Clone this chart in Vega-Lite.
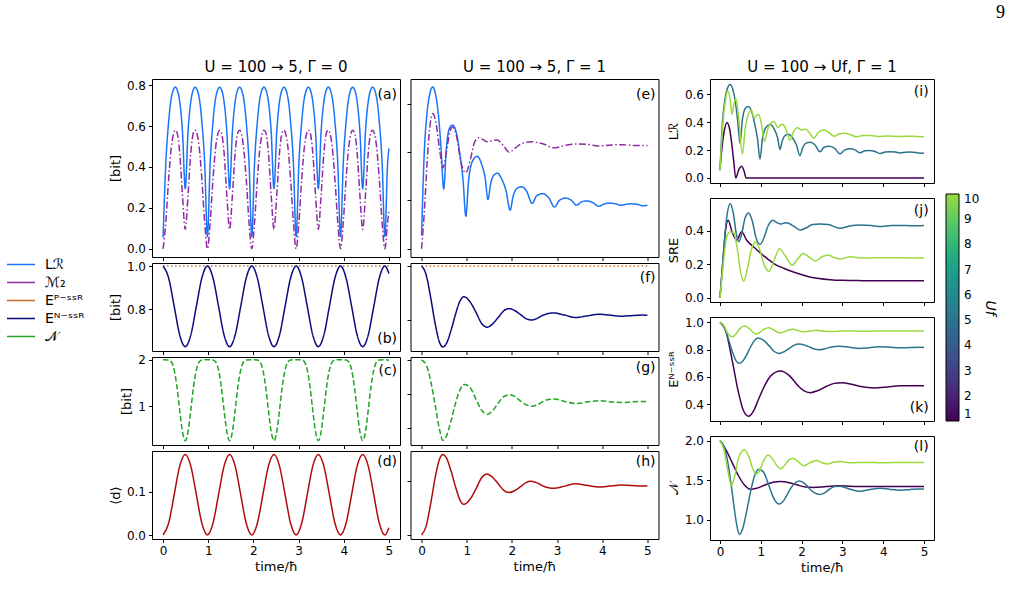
{
"$schema": "https://vega.github.io/schema/vega-lite/v6.json",
"padding": {"left": 6, "top": 3, "right": 5, "bottom": 5},
"title": {"text": "9", "anchor": "end", "font": "Liberation Serif", "fontSize": 18, "fontWeight": "normal", "offset": 38, "dx": 8, "color": "#000"},
"config": {
  "font": "DejaVu Sans",
  "view": {"stroke": "#000", "strokeWidth": 1},
  "axis": {"grid": false, "domain": false, "ticks": true, "tickColor": "#000", "tickSize": 3.5, "tickWidth": 1, "labelFont": "DejaVu Sans", "labelFontSize": 12, "labelColor": "#000", "labelPadding": 3, "labelFlush": false, "labelOverlap": false, "titleFont": "DejaVu Sans", "titleFontSize": 13, "titleFontWeight": "normal", "titleColor": "#000", "titlePadding": 4},
  "title": {"font": "DejaVu Sans", "fontSize": 15, "fontWeight": "normal", "color": "#000"},
  "line": {"strokeWidth": 1.5},
  "text": {"font": "DejaVu Sans", "fontSize": 14, "color": "#000"},
  "legend": {"labelFont": "DejaVu Sans", "labelColor": "#000", "titleFont": "DejaVu Sans", "titleColor": "#000"}
},
"datasets": {
"d0": [
{"s":"LR","t":0,"v":0.055},{"s":"LR","t":0.061,"v":0.42},{"s":"LR","t":0.123,"v":0.62},{"s":"LR","t":0.184,"v":0.74},{"s":"LR","t":0.271,"v":0.79},{"s":"LR","t":0.307,"v":0.78},{"s":"LR","t":0.368,"v":0.72},{"s":"LR","t":0.43,"v":0.57},{"s":"LR","t":0.491,"v":0.294},{"s":"LR","t":0.552,"v":0.57},{"s":"LR","t":0.614,"v":0.72},{"s":"LR","t":0.675,"v":0.78},{"s":"LR","t":0.711,"v":0.79},{"s":"LR","t":0.798,"v":0.74},{"s":"LR","t":0.859,"v":0.62},{"s":"LR","t":0.921,"v":0.42},
{"s":"LR","t":0.982,"v":0.06},{"s":"LR","t":1.043,"v":0.42},{"s":"LR","t":1.105,"v":0.62},{"s":"LR","t":1.166,"v":0.74},{"s":"LR","t":1.253,"v":0.79},{"s":"LR","t":1.289,"v":0.78},{"s":"LR","t":1.35,"v":0.72},{"s":"LR","t":1.412,"v":0.57},{"s":"LR","t":1.473,"v":0.294},{"s":"LR","t":1.534,"v":0.57},{"s":"LR","t":1.596,"v":0.72},{"s":"LR","t":1.657,"v":0.78},{"s":"LR","t":1.693,"v":0.79},{"s":"LR","t":1.78,"v":0.74},{"s":"LR","t":1.841,"v":0.62},{"s":"LR","t":1.903,"v":0.42},
{"s":"LR","t":1.964,"v":0.06},{"s":"LR","t":2.025,"v":0.42},{"s":"LR","t":2.087,"v":0.62},{"s":"LR","t":2.148,"v":0.74},{"s":"LR","t":2.235,"v":0.79},{"s":"LR","t":2.271,"v":0.78},{"s":"LR","t":2.332,"v":0.72},{"s":"LR","t":2.394,"v":0.57},{"s":"LR","t":2.455,"v":0.294},{"s":"LR","t":2.516,"v":0.57},{"s":"LR","t":2.578,"v":0.72},{"s":"LR","t":2.639,"v":0.78},{"s":"LR","t":2.675,"v":0.79},{"s":"LR","t":2.762,"v":0.74},{"s":"LR","t":2.823,"v":0.62},{"s":"LR","t":2.885,"v":0.42},
{"s":"LR","t":2.946,"v":0.06},{"s":"LR","t":3.007,"v":0.42},{"s":"LR","t":3.069,"v":0.62},{"s":"LR","t":3.13,"v":0.74},{"s":"LR","t":3.217,"v":0.79},{"s":"LR","t":3.253,"v":0.78},{"s":"LR","t":3.314,"v":0.72},{"s":"LR","t":3.376,"v":0.57},{"s":"LR","t":3.437,"v":0.294},{"s":"LR","t":3.498,"v":0.57},{"s":"LR","t":3.56,"v":0.72},{"s":"LR","t":3.621,"v":0.78},{"s":"LR","t":3.657,"v":0.79},{"s":"LR","t":3.744,"v":0.74},{"s":"LR","t":3.805,"v":0.62},{"s":"LR","t":3.867,"v":0.42},
{"s":"LR","t":3.928,"v":0.06},{"s":"LR","t":3.989,"v":0.42},{"s":"LR","t":4.051,"v":0.62},{"s":"LR","t":4.112,"v":0.74},{"s":"LR","t":4.199,"v":0.79},{"s":"LR","t":4.235,"v":0.78},{"s":"LR","t":4.296,"v":0.72},{"s":"LR","t":4.358,"v":0.57},{"s":"LR","t":4.419,"v":0.294},{"s":"LR","t":4.48,"v":0.57},{"s":"LR","t":4.542,"v":0.72},{"s":"LR","t":4.603,"v":0.78},{"s":"LR","t":4.639,"v":0.79},{"s":"LR","t":4.726,"v":0.74},{"s":"LR","t":4.787,"v":0.62},{"s":"LR","t":4.849,"v":0.42},
{"s":"LR","t":4.91,"v":0.06},{"s":"LR","t":4.971,"v":0.42},{"s":"LR","t":5,"v":0.49},
{"s":"M2","t":0,"v":0},{"s":"M2","t":0.061,"v":0.13},{"s":"M2","t":0.123,"v":0.34},{"s":"M2","t":0.184,"v":0.5},{"s":"M2","t":0.271,"v":0.58},{"s":"M2","t":0.307,"v":0.57},{"s":"M2","t":0.368,"v":0.47},{"s":"M2","t":0.43,"v":0.26},{"s":"M2","t":0.491,"v":0.095},{"s":"M2","t":0.552,"v":0.26},{"s":"M2","t":0.614,"v":0.47},{"s":"M2","t":0.675,"v":0.57},{"s":"M2","t":0.711,"v":0.58},{"s":"M2","t":0.798,"v":0.5},{"s":"M2","t":0.859,"v":0.34},{"s":"M2","t":0.921,"v":0.13},
{"s":"M2","t":0.982,"v":0},{"s":"M2","t":1.043,"v":0.13},{"s":"M2","t":1.105,"v":0.34},{"s":"M2","t":1.166,"v":0.5},{"s":"M2","t":1.253,"v":0.58},{"s":"M2","t":1.289,"v":0.57},{"s":"M2","t":1.35,"v":0.47},{"s":"M2","t":1.412,"v":0.26},{"s":"M2","t":1.473,"v":0.095},{"s":"M2","t":1.534,"v":0.26},{"s":"M2","t":1.596,"v":0.47},{"s":"M2","t":1.657,"v":0.57},{"s":"M2","t":1.693,"v":0.58},{"s":"M2","t":1.78,"v":0.5},{"s":"M2","t":1.841,"v":0.34},{"s":"M2","t":1.903,"v":0.13},
{"s":"M2","t":1.964,"v":0},{"s":"M2","t":2.025,"v":0.13},{"s":"M2","t":2.087,"v":0.34},{"s":"M2","t":2.148,"v":0.5},{"s":"M2","t":2.235,"v":0.58},{"s":"M2","t":2.271,"v":0.57},{"s":"M2","t":2.332,"v":0.47},{"s":"M2","t":2.394,"v":0.26},{"s":"M2","t":2.455,"v":0.095},{"s":"M2","t":2.516,"v":0.26},{"s":"M2","t":2.578,"v":0.47},{"s":"M2","t":2.639,"v":0.57},{"s":"M2","t":2.675,"v":0.58},{"s":"M2","t":2.762,"v":0.5},{"s":"M2","t":2.823,"v":0.34},{"s":"M2","t":2.885,"v":0.13},
{"s":"M2","t":2.946,"v":0},{"s":"M2","t":3.007,"v":0.13},{"s":"M2","t":3.069,"v":0.34},{"s":"M2","t":3.13,"v":0.5},{"s":"M2","t":3.217,"v":0.58},{"s":"M2","t":3.253,"v":0.57},{"s":"M2","t":3.314,"v":0.47},{"s":"M2","t":3.376,"v":0.26},{"s":"M2","t":3.437,"v":0.095},{"s":"M2","t":3.498,"v":0.26},{"s":"M2","t":3.56,"v":0.47},{"s":"M2","t":3.621,"v":0.57},{"s":"M2","t":3.657,"v":0.58},{"s":"M2","t":3.744,"v":0.5},{"s":"M2","t":3.805,"v":0.34},{"s":"M2","t":3.867,"v":0.13},
{"s":"M2","t":3.928,"v":0},{"s":"M2","t":3.989,"v":0.13},{"s":"M2","t":4.051,"v":0.34},{"s":"M2","t":4.112,"v":0.5},{"s":"M2","t":4.199,"v":0.58},{"s":"M2","t":4.235,"v":0.57},{"s":"M2","t":4.296,"v":0.47},{"s":"M2","t":4.358,"v":0.26},{"s":"M2","t":4.419,"v":0.095},{"s":"M2","t":4.48,"v":0.26},{"s":"M2","t":4.542,"v":0.47},{"s":"M2","t":4.603,"v":0.57},{"s":"M2","t":4.639,"v":0.58},{"s":"M2","t":4.726,"v":0.5},{"s":"M2","t":4.787,"v":0.34},{"s":"M2","t":4.849,"v":0.13},
{"s":"M2","t":4.91,"v":0},{"s":"M2","t":4.971,"v":0.13},{"s":"M2","t":5,"v":0.19},
{"s":"EP","t":0,"v":1},{"s":"EP","t":5,"v":1},
{"s":"EN","t":0,"v":1},{"s":"EN","t":0.123,"v":0.945},{"s":"EN","t":0.246,"v":0.814},{"s":"EN","t":0.368,"v":0.682},{"s":"EN","t":0.491,"v":0.628},{"s":"EN","t":0.614,"v":0.682},{"s":"EN","t":0.737,"v":0.814},{"s":"EN","t":0.859,"v":0.945},
{"s":"EN","t":0.982,"v":1},{"s":"EN","t":1.105,"v":0.945},{"s":"EN","t":1.228,"v":0.814},{"s":"EN","t":1.35,"v":0.682},{"s":"EN","t":1.473,"v":0.628},{"s":"EN","t":1.596,"v":0.682},{"s":"EN","t":1.719,"v":0.814},{"s":"EN","t":1.841,"v":0.945},
{"s":"EN","t":1.964,"v":1},{"s":"EN","t":2.087,"v":0.945},{"s":"EN","t":2.21,"v":0.814},{"s":"EN","t":2.332,"v":0.682},{"s":"EN","t":2.455,"v":0.628},{"s":"EN","t":2.578,"v":0.682},{"s":"EN","t":2.701,"v":0.814},{"s":"EN","t":2.823,"v":0.945},
{"s":"EN","t":2.946,"v":1},{"s":"EN","t":3.069,"v":0.945},{"s":"EN","t":3.192,"v":0.814},{"s":"EN","t":3.314,"v":0.682},{"s":"EN","t":3.437,"v":0.628},{"s":"EN","t":3.56,"v":0.682},{"s":"EN","t":3.683,"v":0.814},{"s":"EN","t":3.805,"v":0.945},
{"s":"EN","t":3.928,"v":1},{"s":"EN","t":4.051,"v":0.945},{"s":"EN","t":4.174,"v":0.814},{"s":"EN","t":4.296,"v":0.682},{"s":"EN","t":4.419,"v":0.628},{"s":"EN","t":4.542,"v":0.682},{"s":"EN","t":4.665,"v":0.814},{"s":"EN","t":4.787,"v":0.945},
{"s":"EN","t":4.91,"v":1},{"s":"EN","t":5,"v":0.965},
{"s":"d","t":0,"v":0},{"s":"d","t":0.123,"v":0.027},{"s":"d","t":0.246,"v":0.093},{"s":"d","t":0.368,"v":0.159},{"s":"d","t":0.491,"v":0.186},{"s":"d","t":0.614,"v":0.159},{"s":"d","t":0.737,"v":0.093},{"s":"d","t":0.859,"v":0.027},
{"s":"d","t":0.982,"v":0},{"s":"d","t":1.105,"v":0.027},{"s":"d","t":1.228,"v":0.093},{"s":"d","t":1.35,"v":0.159},{"s":"d","t":1.473,"v":0.186},{"s":"d","t":1.596,"v":0.159},{"s":"d","t":1.719,"v":0.093},{"s":"d","t":1.841,"v":0.027},
{"s":"d","t":1.964,"v":0},{"s":"d","t":2.087,"v":0.027},{"s":"d","t":2.21,"v":0.093},{"s":"d","t":2.332,"v":0.159},{"s":"d","t":2.455,"v":0.186},{"s":"d","t":2.578,"v":0.159},{"s":"d","t":2.701,"v":0.093},{"s":"d","t":2.823,"v":0.027},
{"s":"d","t":2.946,"v":0},{"s":"d","t":3.069,"v":0.027},{"s":"d","t":3.192,"v":0.093},{"s":"d","t":3.314,"v":0.159},{"s":"d","t":3.437,"v":0.186},{"s":"d","t":3.56,"v":0.159},{"s":"d","t":3.683,"v":0.093},{"s":"d","t":3.805,"v":0.027},
{"s":"d","t":3.928,"v":0},{"s":"d","t":4.051,"v":0.027},{"s":"d","t":4.174,"v":0.093},{"s":"d","t":4.296,"v":0.159},{"s":"d","t":4.419,"v":0.186},{"s":"d","t":4.542,"v":0.159},{"s":"d","t":4.665,"v":0.093},{"s":"d","t":4.787,"v":0.027},
{"s":"d","t":4.91,"v":0},{"s":"d","t":5,"v":0.017},
{"s":"N","t":0,"v":2},{"s":"N","t":0.123,"v":1.995},{"s":"N","t":0.184,"v":1.95},{"s":"N","t":0.246,"v":1.78},{"s":"N","t":0.307,"v":1.42},{"s":"N","t":0.368,"v":0.91},{"s":"N","t":0.43,"v":0.44},{"s":"N","t":0.491,"v":0.25},{"s":"N","t":0.552,"v":0.44},{"s":"N","t":0.614,"v":0.91},{"s":"N","t":0.675,"v":1.42},{"s":"N","t":0.737,"v":1.78},{"s":"N","t":0.798,"v":1.95},{"s":"N","t":0.859,"v":1.995},
{"s":"N","t":0.982,"v":2},{"s":"N","t":1.105,"v":1.995},{"s":"N","t":1.166,"v":1.95},{"s":"N","t":1.228,"v":1.78},{"s":"N","t":1.289,"v":1.42},{"s":"N","t":1.35,"v":0.91},{"s":"N","t":1.412,"v":0.44},{"s":"N","t":1.473,"v":0.25},{"s":"N","t":1.534,"v":0.44},{"s":"N","t":1.596,"v":0.91},{"s":"N","t":1.657,"v":1.42},{"s":"N","t":1.719,"v":1.78},{"s":"N","t":1.78,"v":1.95},{"s":"N","t":1.841,"v":1.995},
{"s":"N","t":1.964,"v":2},{"s":"N","t":2.087,"v":1.995},{"s":"N","t":2.148,"v":1.95},{"s":"N","t":2.21,"v":1.78},{"s":"N","t":2.271,"v":1.42},{"s":"N","t":2.332,"v":0.91},{"s":"N","t":2.394,"v":0.44},{"s":"N","t":2.455,"v":0.25},{"s":"N","t":2.516,"v":0.44},{"s":"N","t":2.578,"v":0.91},{"s":"N","t":2.639,"v":1.42},{"s":"N","t":2.701,"v":1.78},{"s":"N","t":2.762,"v":1.95},{"s":"N","t":2.823,"v":1.995},
{"s":"N","t":2.946,"v":2},{"s":"N","t":3.069,"v":1.995},{"s":"N","t":3.13,"v":1.95},{"s":"N","t":3.192,"v":1.78},{"s":"N","t":3.253,"v":1.42},{"s":"N","t":3.314,"v":0.91},{"s":"N","t":3.376,"v":0.44},{"s":"N","t":3.437,"v":0.25},{"s":"N","t":3.498,"v":0.44},{"s":"N","t":3.56,"v":0.91},{"s":"N","t":3.621,"v":1.42},{"s":"N","t":3.683,"v":1.78},{"s":"N","t":3.744,"v":1.95},{"s":"N","t":3.805,"v":1.995},
{"s":"N","t":3.928,"v":2},{"s":"N","t":4.051,"v":1.995},{"s":"N","t":4.112,"v":1.95},{"s":"N","t":4.174,"v":1.78},{"s":"N","t":4.235,"v":1.42},{"s":"N","t":4.296,"v":0.91},{"s":"N","t":4.358,"v":0.44},{"s":"N","t":4.419,"v":0.25},{"s":"N","t":4.48,"v":0.44},{"s":"N","t":4.542,"v":0.91},{"s":"N","t":4.603,"v":1.42},{"s":"N","t":4.665,"v":1.78},{"s":"N","t":4.726,"v":1.95},{"s":"N","t":4.787,"v":1.995},
{"s":"N","t":4.91,"v":2},{"s":"N","t":5,"v":1.99}
],
"d1": [
{"s":"LR","u":1,"t":0,"v":0.062},{"s":"LR","u":1,"t":0.05,"v":0.22},{"s":"LR","u":1,"t":0.1,"v":0.33},{"s":"LR","u":1,"t":0.17,"v":0.396},{"s":"LR","u":1,"t":0.23,"v":0.36},{"s":"LR","u":1,"t":0.29,"v":0.24},{"s":"LR","u":1,"t":0.34,"v":0.11},{"s":"LR","u":1,"t":0.385,"v":0},{"s":"LR","u":1,"t":0.46,"v":0.06},{"s":"LR","u":1,"t":0.53,"v":0.085},{"s":"LR","u":1,"t":0.59,"v":0.05},{"s":"LR","u":1,"t":0.64,"v":0},{"s":"LR","u":1,"t":1,"v":0},{"s":"LR","u":1,"t":5,"v":0},
{"s":"SRE","u":1,"t":0,"v":0},{"s":"SRE","u":1,"t":0.08,"v":0.25},{"s":"SRE","u":1,"t":0.14,"v":0.41},{"s":"SRE","u":1,"t":0.2,"v":0.463},{"s":"SRE","u":1,"t":0.3,"v":0.39},{"s":"SRE","u":1,"t":0.41,"v":0.345},{"s":"SRE","u":1,"t":0.53,"v":0.394},{"s":"SRE","u":1,"t":0.65,"v":0.345},{"s":"SRE","u":1,"t":0.82,"v":0.305},{"s":"SRE","u":1,"t":1,"v":0.265},{"s":"SRE","u":1,"t":1.15,"v":0.236},{"s":"SRE","u":1,"t":1.35,"v":0.2},{"s":"SRE","u":1,"t":1.56,"v":0.177},{"s":"SRE","u":1,"t":1.8,"v":0.155},{"s":"SRE","u":1,"t":1.97,"v":0.141},{"s":"SRE","u":1,"t":2.2,"v":0.125},{"s":"SRE","u":1,"t":2.38,"v":0.118},{"s":"SRE","u":1,"t":2.7,"v":0.109},{"s":"SRE","u":1,"t":3,"v":0.105},{"s":"SRE","u":1,"t":3.5,"v":0.103},{"s":"SRE","u":1,"t":4,"v":0.102},{"s":"SRE","u":1,"t":5,"v":0.102},
{"s":"EN","u":1,"t":0,"v":1},{"s":"EN","u":1,"t":0.15,"v":0.93},{"s":"EN","u":1,"t":0.3,"v":0.72},{"s":"EN","u":1,"t":0.45,"v":0.49},{"s":"EN","u":1,"t":0.58,"v":0.35},{"s":"EN","u":1,"t":0.7,"v":0.312},{"s":"EN","u":1,"t":0.82,"v":0.35},{"s":"EN","u":1,"t":0.95,"v":0.44},{"s":"EN","u":1,"t":1.1,"v":0.54},{"s":"EN","u":1,"t":1.25,"v":0.61},{"s":"EN","u":1,"t":1.48,"v":0.643},{"s":"EN","u":1,"t":1.7,"v":0.61},{"s":"EN","u":1,"t":1.9,"v":0.54},{"s":"EN","u":1,"t":2.05,"v":0.5},{"s":"EN","u":1,"t":2.21,"v":0.485},{"s":"EN","u":1,"t":2.4,"v":0.5},{"s":"EN","u":1,"t":2.6,"v":0.53},{"s":"EN","u":1,"t":2.8,"v":0.553},{"s":"EN","u":1,"t":2.99,"v":0.557},{"s":"EN","u":1,"t":3.2,"v":0.548},{"s":"EN","u":1,"t":3.45,"v":0.53},{"s":"EN","u":1,"t":3.77,"v":0.52},{"s":"EN","u":1,"t":4.1,"v":0.527},{"s":"EN","u":1,"t":4.4,"v":0.535},{"s":"EN","u":1,"t":4.7,"v":0.535},{"s":"EN","u":1,"t":5,"v":0.535},
{"s":"N","u":1,"t":0,"v":2},{"s":"N","u":1,"t":0.15,"v":1.88},{"s":"N","u":1,"t":0.3,"v":1.72},{"s":"N","u":1,"t":0.45,"v":1.56},{"s":"N","u":1,"t":0.6,"v":1.44},{"s":"N","u":1,"t":0.74,"v":1.387},{"s":"N","u":1,"t":0.9,"v":1.4},{"s":"N","u":1,"t":1.1,"v":1.44},{"s":"N","u":1,"t":1.3,"v":1.475},{"s":"N","u":1,"t":1.48,"v":1.485},{"s":"N","u":1,"t":1.7,"v":1.47},{"s":"N","u":1,"t":1.9,"v":1.44},{"s":"N","u":1,"t":2.1,"v":1.415},{"s":"N","u":1,"t":2.29,"v":1.41},{"s":"N","u":1,"t":2.6,"v":1.42},{"s":"N","u":1,"t":2.9,"v":1.43},{"s":"N","u":1,"t":3.2,"v":1.425},{"s":"N","u":1,"t":3.5,"v":1.42},{"s":"N","u":1,"t":4,"v":1.42},{"s":"N","u":1,"t":5,"v":1.42},
{"s":"LR","u":5,"t":0,"v":0.055},{"s":"LR","u":5,"t":0.06,"v":0.4},{"s":"LR","u":5,"t":0.12,"v":0.56},{"s":"LR","u":5,"t":0.18,"v":0.64},{"s":"LR","u":5,"t":0.245,"v":0.67},{"s":"LR","u":5,"t":0.31,"v":0.64},{"s":"LR","u":5,"t":0.37,"v":0.56},{"s":"LR","u":5,"t":0.43,"v":0.42},{"s":"LR","u":5,"t":0.49,"v":0.248},{"s":"LR","u":5,"t":0.55,"v":0.42},{"s":"LR","u":5,"t":0.62,"v":0.5},{"s":"LR","u":5,"t":0.69,"v":0.512},{"s":"LR","u":5,"t":0.77,"v":0.48},{"s":"LR","u":5,"t":0.85,"v":0.39},{"s":"LR","u":5,"t":0.92,"v":0.28},{"s":"LR","u":5,"t":0.98,"v":0.135},{"s":"LR","u":5,"t":1.04,"v":0.28},{"s":"LR","u":5,"t":1.12,"v":0.36},{"s":"LR","u":5,"t":1.23,"v":0.383},{"s":"LR","u":5,"t":1.33,"v":0.35},{"s":"LR","u":5,"t":1.41,"v":0.29},{"s":"LR","u":5,"t":1.47,"v":0.204},{"s":"LR","u":5,"t":1.53,"v":0.27},{"s":"LR","u":5,"t":1.6,"v":0.305},{"s":"LR","u":5,"t":1.68,"v":0.313},{"s":"LR","u":5,"t":1.77,"v":0.29},{"s":"LR","u":5,"t":1.87,"v":0.24},{"s":"LR","u":5,"t":1.96,"v":0.16},{"s":"LR","u":5,"t":2.03,"v":0.22},{"s":"LR","u":5,"t":2.11,"v":0.25},{"s":"LR","u":5,"t":2.21,"v":0.257},{"s":"LR","u":5,"t":2.32,"v":0.24},{"s":"LR","u":5,"t":2.45,"v":0.188},{"s":"LR","u":5,"t":2.55,"v":0.22},{"s":"LR","u":5,"t":2.68,"v":0.228},{"s":"LR","u":5,"t":2.82,"v":0.21},{"s":"LR","u":5,"t":2.94,"v":0.173},{"s":"LR","u":5,"t":3.05,"v":0.2},{"s":"LR","u":5,"t":3.19,"v":0.21},{"s":"LR","u":5,"t":3.32,"v":0.2},{"s":"LR","u":5,"t":3.43,"v":0.181},{"s":"LR","u":5,"t":3.55,"v":0.195},{"s":"LR","u":5,"t":3.66,"v":0.198},{"s":"LR","u":5,"t":3.8,"v":0.19},{"s":"LR","u":5,"t":3.92,"v":0.176},{"s":"LR","u":5,"t":4.05,"v":0.186},{"s":"LR","u":5,"t":4.17,"v":0.189},{"s":"LR","u":5,"t":4.3,"v":0.186},{"s":"LR","u":5,"t":4.42,"v":0.18},{"s":"LR","u":5,"t":4.55,"v":0.185},{"s":"LR","u":5,"t":4.65,"v":0.186},{"s":"LR","u":5,"t":4.8,"v":0.183},{"s":"LR","u":5,"t":4.9,"v":0.178},{"s":"LR","u":5,"t":5,"v":0.18},
{"s":"M2","u":5,"t":0,"v":0},{"s":"M2","u":5,"t":0.06,"v":0.15},{"s":"M2","u":5,"t":0.12,"v":0.35},{"s":"M2","u":5,"t":0.18,"v":0.5},{"s":"M2","u":5,"t":0.25,"v":0.56},{"s":"M2","u":5,"t":0.32,"v":0.52},{"s":"M2","u":5,"t":0.4,"v":0.41},{"s":"M2","u":5,"t":0.47,"v":0.335},{"s":"M2","u":5,"t":0.55,"v":0.4},{"s":"M2","u":5,"t":0.62,"v":0.48},{"s":"M2","u":5,"t":0.69,"v":0.504},{"s":"M2","u":5,"t":0.77,"v":0.47},{"s":"M2","u":5,"t":0.87,"v":0.36},{"s":"M2","u":5,"t":0.98,"v":0.315},{"s":"M2","u":5,"t":1.08,"v":0.37},{"s":"M2","u":5,"t":1.17,"v":0.44},{"s":"M2","u":5,"t":1.26,"v":0.46},{"s":"M2","u":5,"t":1.36,"v":0.452},{"s":"M2","u":5,"t":1.46,"v":0.443},{"s":"M2","u":5,"t":1.57,"v":0.448},{"s":"M2","u":5,"t":1.67,"v":0.45},{"s":"M2","u":5,"t":1.8,"v":0.43},{"s":"M2","u":5,"t":1.94,"v":0.4},{"s":"M2","u":5,"t":2.08,"v":0.418},{"s":"M2","u":5,"t":2.22,"v":0.436},{"s":"M2","u":5,"t":2.44,"v":0.443},{"s":"M2","u":5,"t":2.68,"v":0.435},{"s":"M2","u":5,"t":2.93,"v":0.418},{"s":"M2","u":5,"t":3.18,"v":0.428},{"s":"M2","u":5,"t":3.43,"v":0.434},{"s":"M2","u":5,"t":3.68,"v":0.432},{"s":"M2","u":5,"t":3.92,"v":0.426},{"s":"M2","u":5,"t":4.2,"v":0.43},{"s":"M2","u":5,"t":4.45,"v":0.431},{"s":"M2","u":5,"t":4.7,"v":0.428},{"s":"M2","u":5,"t":5,"v":0.428},
{"s":"EP","u":5,"t":0,"v":1},{"s":"EP","u":5,"t":5,"v":1},
{"s":"EN","u":5,"t":0,"v":1},{"s":"EN","u":5,"t":0.1,"v":0.968},{"s":"EN","u":5,"t":0.2,"v":0.885},{"s":"EN","u":5,"t":0.3,"v":0.787},{"s":"EN","u":5,"t":0.4,"v":0.716},{"s":"EN","u":5,"t":0.47,"v":0.7},{"s":"EN","u":5,"t":0.55,"v":0.713},{"s":"EN","u":5,"t":0.65,"v":0.76},{"s":"EN","u":5,"t":0.75,"v":0.82},{"s":"EN","u":5,"t":0.85,"v":0.87},{"s":"EN","u":5,"t":0.94,"v":0.886},{"s":"EN","u":5,"t":1.07,"v":0.868},{"s":"EN","u":5,"t":1.2,"v":0.83},{"s":"EN","u":5,"t":1.33,"v":0.787},{"s":"EN","u":5,"t":1.45,"v":0.773},{"s":"EN","u":5,"t":1.57,"v":0.785},{"s":"EN","u":5,"t":1.7,"v":0.81},{"s":"EN","u":5,"t":1.82,"v":0.834},{"s":"EN","u":5,"t":1.94,"v":0.842},{"s":"EN","u":5,"t":2.06,"v":0.835},{"s":"EN","u":5,"t":2.19,"v":0.82},{"s":"EN","u":5,"t":2.31,"v":0.805},{"s":"EN","u":5,"t":2.43,"v":0.8},{"s":"EN","u":5,"t":2.56,"v":0.806},{"s":"EN","u":5,"t":2.68,"v":0.817},{"s":"EN","u":5,"t":2.81,"v":0.824},{"s":"EN","u":5,"t":2.93,"v":0.826},{"s":"EN","u":5,"t":3.17,"v":0.818},{"s":"EN","u":5,"t":3.41,"v":0.809},{"s":"EN","u":5,"t":3.66,"v":0.815},{"s":"EN","u":5,"t":3.92,"v":0.821},{"s":"EN","u":5,"t":4.16,"v":0.818},{"s":"EN","u":5,"t":4.41,"v":0.814},{"s":"EN","u":5,"t":4.65,"v":0.816},{"s":"EN","u":5,"t":4.9,"v":0.818},{"s":"EN","u":5,"t":5,"v":0.817},
{"s":"d","u":5,"t":0,"v":0},{"s":"d","u":5,"t":0.1,"v":0.016},{"s":"d","u":5,"t":0.2,"v":0.0575},{"s":"d","u":5,"t":0.3,"v":0.1065},{"s":"d","u":5,"t":0.4,"v":0.142},{"s":"d","u":5,"t":0.47,"v":0.15},{"s":"d","u":5,"t":0.55,"v":0.1435},{"s":"d","u":5,"t":0.65,"v":0.12},{"s":"d","u":5,"t":0.75,"v":0.09},{"s":"d","u":5,"t":0.85,"v":0.065},{"s":"d","u":5,"t":0.94,"v":0.057},{"s":"d","u":5,"t":1.07,"v":0.066},{"s":"d","u":5,"t":1.2,"v":0.085},{"s":"d","u":5,"t":1.33,"v":0.1065},{"s":"d","u":5,"t":1.45,"v":0.1135},{"s":"d","u":5,"t":1.57,"v":0.1075},{"s":"d","u":5,"t":1.7,"v":0.095},{"s":"d","u":5,"t":1.82,"v":0.083},{"s":"d","u":5,"t":1.94,"v":0.079},{"s":"d","u":5,"t":2.06,"v":0.0825},{"s":"d","u":5,"t":2.19,"v":0.09},{"s":"d","u":5,"t":2.31,"v":0.0975},{"s":"d","u":5,"t":2.43,"v":0.1},{"s":"d","u":5,"t":2.56,"v":0.097},{"s":"d","u":5,"t":2.68,"v":0.0915},{"s":"d","u":5,"t":2.81,"v":0.088},{"s":"d","u":5,"t":2.93,"v":0.087},{"s":"d","u":5,"t":3.17,"v":0.091},{"s":"d","u":5,"t":3.41,"v":0.0955},{"s":"d","u":5,"t":3.66,"v":0.0925},{"s":"d","u":5,"t":3.92,"v":0.0895},{"s":"d","u":5,"t":4.16,"v":0.091},{"s":"d","u":5,"t":4.41,"v":0.093},{"s":"d","u":5,"t":4.65,"v":0.092},{"s":"d","u":5,"t":4.9,"v":0.091},{"s":"d","u":5,"t":5,"v":0.0915},
{"s":"N","u":5,"t":0,"v":2},{"s":"N","u":5,"t":0.1,"v":1.93},{"s":"N","u":5,"t":0.2,"v":1.7},{"s":"N","u":5,"t":0.3,"v":1.34},{"s":"N","u":5,"t":0.4,"v":0.97},{"s":"N","u":5,"t":0.47,"v":0.82},{"s":"N","u":5,"t":0.55,"v":0.88},{"s":"N","u":5,"t":0.65,"v":1.1},{"s":"N","u":5,"t":0.75,"v":1.36},{"s":"N","u":5,"t":0.85,"v":1.56},{"s":"N","u":5,"t":0.95,"v":1.64},{"s":"N","u":5,"t":1.07,"v":1.6},{"s":"N","u":5,"t":1.2,"v":1.43},{"s":"N","u":5,"t":1.33,"v":1.26},{"s":"N","u":5,"t":1.45,"v":1.2},{"s":"N","u":5,"t":1.57,"v":1.25},{"s":"N","u":5,"t":1.7,"v":1.37},{"s":"N","u":5,"t":1.82,"v":1.46},{"s":"N","u":5,"t":1.95,"v":1.49},{"s":"N","u":5,"t":2.07,"v":1.46},{"s":"N","u":5,"t":2.2,"v":1.39},{"s":"N","u":5,"t":2.32,"v":1.34},{"s":"N","u":5,"t":2.44,"v":1.32},{"s":"N","u":5,"t":2.56,"v":1.34},{"s":"N","u":5,"t":2.69,"v":1.39},{"s":"N","u":5,"t":2.81,"v":1.42},{"s":"N","u":5,"t":2.94,"v":1.425},{"s":"N","u":5,"t":3.17,"v":1.39},{"s":"N","u":5,"t":3.43,"v":1.36},{"s":"N","u":5,"t":3.68,"v":1.385},{"s":"N","u":5,"t":3.94,"v":1.4},{"s":"N","u":5,"t":4.17,"v":1.385},{"s":"N","u":5,"t":4.42,"v":1.375},{"s":"N","u":5,"t":4.67,"v":1.385},{"s":"N","u":5,"t":4.9,"v":1.39},{"s":"N","u":5,"t":5,"v":1.39},
{"s":"SRE","u":5,"t":0,"v":0},{"s":"SRE","u":5,"t":0.08,"v":0.25},{"s":"SRE","u":5,"t":0.16,"v":0.47},{"s":"SRE","u":5,"t":0.25,"v":0.561},{"s":"SRE","u":5,"t":0.33,"v":0.5},{"s":"SRE","u":5,"t":0.4,"v":0.38},{"s":"SRE","u":5,"t":0.46,"v":0.335},{"s":"SRE","u":5,"t":0.53,"v":0.38},{"s":"SRE","u":5,"t":0.62,"v":0.48},{"s":"SRE","u":5,"t":0.7,"v":0.506},{"s":"SRE","u":5,"t":0.79,"v":0.46},{"s":"SRE","u":5,"t":0.88,"v":0.36},{"s":"SRE","u":5,"t":0.98,"v":0.319},{"s":"SRE","u":5,"t":1.08,"v":0.36},{"s":"SRE","u":5,"t":1.18,"v":0.43},{"s":"SRE","u":5,"t":1.3,"v":0.463},{"s":"SRE","u":5,"t":1.4,"v":0.447},{"s":"SRE","u":5,"t":1.5,"v":0.44},{"s":"SRE","u":5,"t":1.6,"v":0.448},{"s":"SRE","u":5,"t":1.68,"v":0.445},{"s":"SRE","u":5,"t":1.82,"v":0.425},{"s":"SRE","u":5,"t":1.97,"v":0.404},{"s":"SRE","u":5,"t":2.12,"v":0.418},{"s":"SRE","u":5,"t":2.27,"v":0.437},{"s":"SRE","u":5,"t":2.45,"v":0.44},{"s":"SRE","u":5,"t":2.65,"v":0.437},{"s":"SRE","u":5,"t":2.94,"v":0.415},{"s":"SRE","u":5,"t":3.2,"v":0.43},{"s":"SRE","u":5,"t":3.45,"v":0.434},{"s":"SRE","u":5,"t":3.7,"v":0.432},{"s":"SRE","u":5,"t":3.94,"v":0.425},{"s":"SRE","u":5,"t":4.2,"v":0.432},{"s":"SRE","u":5,"t":4.45,"v":0.432},{"s":"SRE","u":5,"t":4.7,"v":0.43},{"s":"SRE","u":5,"t":5,"v":0.432},
{"s":"LR","u":10,"t":0,"v":0.06},{"s":"LR","u":10,"t":0.06,"v":0.35},{"s":"LR","u":10,"t":0.13,"v":0.55},{"s":"LR","u":10,"t":0.19,"v":0.624},{"s":"LR","u":10,"t":0.25,"v":0.56},{"s":"LR","u":10,"t":0.29,"v":0.456},{"s":"LR","u":10,"t":0.34,"v":0.53},{"s":"LR","u":10,"t":0.39,"v":0.569},{"s":"LR","u":10,"t":0.45,"v":0.45},{"s":"LR","u":10,"t":0.55,"v":0.17},{"s":"LR","u":10,"t":0.62,"v":0.36},{"s":"LR","u":10,"t":0.7,"v":0.46},{"s":"LR","u":10,"t":0.77,"v":0.485},{"s":"LR","u":10,"t":0.84,"v":0.43},{"s":"LR","u":10,"t":0.9,"v":0.45},{"s":"LR","u":10,"t":0.95,"v":0.456},{"s":"LR","u":10,"t":1.02,"v":0.38},{"s":"LR","u":10,"t":1.09,"v":0.26},{"s":"LR","u":10,"t":1.17,"v":0.35},{"s":"LR","u":10,"t":1.25,"v":0.395},{"s":"LR","u":10,"t":1.33,"v":0.404},{"s":"LR","u":10,"t":1.42,"v":0.36},{"s":"LR","u":10,"t":1.5,"v":0.385},{"s":"LR","u":10,"t":1.56,"v":0.38},{"s":"LR","u":10,"t":1.64,"v":0.33},{"s":"LR","u":10,"t":1.71,"v":0.27},{"s":"LR","u":10,"t":1.8,"v":0.33},{"s":"LR","u":10,"t":1.9,"v":0.36},{"s":"LR","u":10,"t":2,"v":0.345},{"s":"LR","u":10,"t":2.1,"v":0.35},{"s":"LR","u":10,"t":2.2,"v":0.32},{"s":"LR","u":10,"t":2.3,"v":0.285},{"s":"LR","u":10,"t":2.42,"v":0.33},{"s":"LR","u":10,"t":2.55,"v":0.345},{"s":"LR","u":10,"t":2.65,"v":0.33},{"s":"LR","u":10,"t":2.8,"v":0.3},{"s":"LR","u":10,"t":2.92,"v":0.315},{"s":"LR","u":10,"t":3.05,"v":0.32},{"s":"LR","u":10,"t":3.2,"v":0.31},{"s":"LR","u":10,"t":3.35,"v":0.295},{"s":"LR","u":10,"t":3.5,"v":0.305},{"s":"LR","u":10,"t":3.7,"v":0.305},{"s":"LR","u":10,"t":3.9,"v":0.297},{"s":"LR","u":10,"t":4.1,"v":0.302},{"s":"LR","u":10,"t":4.4,"v":0.298},{"s":"LR","u":10,"t":4.7,"v":0.3},{"s":"LR","u":10,"t":5,"v":0.295},
{"s":"SRE","u":10,"t":0,"v":0},{"s":"SRE","u":10,"t":0.08,"v":0.2},{"s":"SRE","u":10,"t":0.16,"v":0.36},{"s":"SRE","u":10,"t":0.25,"v":0.394},{"s":"SRE","u":10,"t":0.33,"v":0.39},{"s":"SRE","u":10,"t":0.42,"v":0.3},{"s":"SRE","u":10,"t":0.5,"v":0.16},{"s":"SRE","u":10,"t":0.58,"v":0.099},{"s":"SRE","u":10,"t":0.66,"v":0.16},{"s":"SRE","u":10,"t":0.76,"v":0.28},{"s":"SRE","u":10,"t":0.87,"v":0.335},{"s":"SRE","u":10,"t":0.97,"v":0.29},{"s":"SRE","u":10,"t":1.08,"v":0.2},{"s":"SRE","u":10,"t":1.2,"v":0.158},{"s":"SRE","u":10,"t":1.32,"v":0.22},{"s":"SRE","u":10,"t":1.46,"v":0.293},{"s":"SRE","u":10,"t":1.6,"v":0.25},{"s":"SRE","u":10,"t":1.77,"v":0.195},{"s":"SRE","u":10,"t":1.9,"v":0.23},{"s":"SRE","u":10,"t":2.04,"v":0.265},{"s":"SRE","u":10,"t":2.2,"v":0.24},{"s":"SRE","u":10,"t":2.34,"v":0.22},{"s":"SRE","u":10,"t":2.5,"v":0.245},{"s":"SRE","u":10,"t":2.65,"v":0.255},{"s":"SRE","u":10,"t":2.8,"v":0.24},{"s":"SRE","u":10,"t":2.95,"v":0.232},{"s":"SRE","u":10,"t":3.2,"v":0.245},{"s":"SRE","u":10,"t":3.5,"v":0.238},{"s":"SRE","u":10,"t":4,"v":0.24},{"s":"SRE","u":10,"t":5,"v":0.238},
{"s":"EN","u":10,"t":0,"v":1},{"s":"EN","u":10,"t":0.1,"v":0.975},{"s":"EN","u":10,"t":0.2,"v":0.915},{"s":"EN","u":10,"t":0.29,"v":0.895},{"s":"EN","u":10,"t":0.38,"v":0.91},{"s":"EN","u":10,"t":0.47,"v":0.95},{"s":"EN","u":10,"t":0.6,"v":0.974},{"s":"EN","u":10,"t":0.72,"v":0.955},{"s":"EN","u":10,"t":0.8,"v":0.93},{"s":"EN","u":10,"t":0.88,"v":0.915},{"s":"EN","u":10,"t":0.97,"v":0.925},{"s":"EN","u":10,"t":1.08,"v":0.95},{"s":"EN","u":10,"t":1.19,"v":0.961},{"s":"EN","u":10,"t":1.3,"v":0.948},{"s":"EN","u":10,"t":1.4,"v":0.93},{"s":"EN","u":10,"t":1.48,"v":0.924},{"s":"EN","u":10,"t":1.6,"v":0.935},{"s":"EN","u":10,"t":1.7,"v":0.947},{"s":"EN","u":10,"t":1.79,"v":0.95},{"s":"EN","u":10,"t":1.9,"v":0.942},{"s":"EN","u":10,"t":2.05,"v":0.931},{"s":"EN","u":10,"t":2.2,"v":0.937},{"s":"EN","u":10,"t":2.38,"v":0.943},{"s":"EN","u":10,"t":2.55,"v":0.935},{"s":"EN","u":10,"t":2.75,"v":0.933},{"s":"EN","u":10,"t":3,"v":0.938},{"s":"EN","u":10,"t":3.5,"v":0.936},{"s":"EN","u":10,"t":4,"v":0.937},{"s":"EN","u":10,"t":5,"v":0.937},
{"s":"N","u":10,"t":0,"v":2},{"s":"N","u":10,"t":0.1,"v":1.88},{"s":"N","u":10,"t":0.2,"v":1.6},{"s":"N","u":10,"t":0.28,"v":1.43},{"s":"N","u":10,"t":0.36,"v":1.55},{"s":"N","u":10,"t":0.46,"v":1.79},{"s":"N","u":10,"t":0.6,"v":1.886},{"s":"N","u":10,"t":0.72,"v":1.78},{"s":"N","u":10,"t":0.8,"v":1.65},{"s":"N","u":10,"t":0.89,"v":1.58},{"s":"N","u":10,"t":0.97,"v":1.62},{"s":"N","u":10,"t":1.08,"v":1.76},{"s":"N","u":10,"t":1.18,"v":1.82},{"s":"N","u":10,"t":1.3,"v":1.76},{"s":"N","u":10,"t":1.4,"v":1.68},{"s":"N","u":10,"t":1.49,"v":1.646},{"s":"N","u":10,"t":1.6,"v":1.7},{"s":"N","u":10,"t":1.7,"v":1.76},{"s":"N","u":10,"t":1.79,"v":1.778},{"s":"N","u":10,"t":1.9,"v":1.74},{"s":"N","u":10,"t":2.06,"v":1.684},{"s":"N","u":10,"t":2.2,"v":1.72},{"s":"N","u":10,"t":2.36,"v":1.75},{"s":"N","u":10,"t":2.5,"v":1.72},{"s":"N","u":10,"t":2.64,"v":1.705},{"s":"N","u":10,"t":2.8,"v":1.73},{"s":"N","u":10,"t":2.95,"v":1.735},{"s":"N","u":10,"t":3.2,"v":1.72},{"s":"N","u":10,"t":3.5,"v":1.725},{"s":"N","u":10,"t":4,"v":1.72},{"s":"N","u":10,"t":4.5,"v":1.725},{"s":"N","u":10,"t":5,"v":1.725}
]
},
"spacing": 7,
"resolve": {"scale": {"color": "independent"}, "legend": {"color": "independent"}},
"hconcat": [
{
"spacing": 4.5,
"hconcat": [
{
"bounds": "flush",
"spacing": 6,
"vconcat": [
{
"width": 248, "height": 178,
"title": {"text": "U = 100 → 5,  Γ = 0", "fontSize": 15, "offset": 4},
"encoding": {
"x": {"field": "t", "type": "quantitative", "scale": {"domain": [-0.245, 5.245], "nice": false, "zero": false}, "axis": {"values": [0,1,2,3,4,5], "labels": false, "title": null}},
"y": {"field": "v", "type": "quantitative", "scale": {"domain": [-0.04, 0.83], "nice": false, "zero": false}, "axis": {"values": [0,0.2,0.4,0.6,0.8], "format": ".1f", "title": "[bit]"}}
},
"layer": [
{"data": {"name": "d0"}, "transform": [{"filter": {"field": "s", "oneOf": ["LR","M2"]}}], "mark": {"type": "line", "interpolate": "monotone"},
"encoding": {
"color": {"field": "s", "type": "nominal", "scale": {"domain": ["LR","M2","EP","EN","N"], "range": ["#1a74f6","#8e2aa3","#c96a2c","#0b0b80","#22a522"]}, "legend": {"orient": "none", "legendX": -146, "legendY": 178, "title": null, "symbolType": "stroke", "symbolSize": 784, "symbolStrokeWidth": 1.5, "symbolOpacity": 1, "labelFontSize": 14, "labelOffset": 9, "clipHeight": 15, "rowPadding": 3, "padding": 0, "labelExpr": "datum.value == 'LR' ? 'Lℛ' : datum.value == 'M2' ? 'ℳ₂' : datum.value == 'EP' ? 'Eᴾ⁻ˢˢᴿ' : datum.value == 'EN' ? 'Eᴺ⁻ˢˢᴿ' : '𝒩'", "encode": {"symbols": {"update": {"strokeDash": {"signal": "datum.value == 'M2' ? [7,2.5,1.5,2.5] : datum.value == 'EP' ? [1.5,2.5] : datum.value == 'N' ? [5.5,2.5] : [1,0]"}}}}}},
"strokeDash": {"field": "s", "type": "nominal", "scale": {"domain": ["LR","M2","EP","EN","N"], "range": [[1,0],[7,2.5,1.5,2.5],[1.5,2.5],[1,0],[5.5,2.5]]}, "legend": null}
}},
{"data": {"values": [{"t": 5.18, "v": 0.753, "k": "(a)"}]}, "mark": {"type": "text", "align": "right", "baseline": "middle"}, "encoding": {"text": {"field": "k"}}}
]
},
{
"width": 248, "height": 88,
"encoding": {
"x": {"field": "t", "type": "quantitative", "scale": {"domain": [-0.245, 5.245], "nice": false, "zero": false}, "axis": {"values": [0,1,2,3,4,5], "labels": false, "title": null}},
"y": {"field": "v", "type": "quantitative", "scale": {"domain": [0.608, 1.014], "nice": false, "zero": false}, "axis": {"values": [0.8,1.0], "format": ".1f", "title": "[bit]"}}
},
"layer": [
{"data": {"name": "d0"}, "transform": [{"filter": {"field": "s", "oneOf": ["EP","EN"]}}], "mark": {"type": "line", "interpolate": "monotone"},
"encoding": {
"color": {"field": "s", "type": "nominal", "scale": {"domain": ["LR","M2","EP","EN","N"], "range": ["#1a74f6","#8e2aa3","#c96a2c","#0b0b80","#22a522"]}, "legend": null},
"strokeDash": {"field": "s", "type": "nominal", "scale": {"domain": ["LR","M2","EP","EN","N"], "range": [[1,0],[7,2.5,1.5,2.5],[1.5,2.5],[1,0],[5.5,2.5]]}, "legend": null}
}},
{"data": {"values": [{"t": 5.18, "v": 0.662, "k": "(b)"}]}, "mark": {"type": "text", "align": "right", "baseline": "middle"}, "encoding": {"text": {"field": "k"}}}
]
},
{
"width": 248, "height": 88,
"encoding": {
"x": {"field": "t", "type": "quantitative", "scale": {"domain": [-0.245, 5.245], "nice": false, "zero": false}, "axis": {"values": [0,1,2,3,4,5], "labels": false, "title": null}},
"y": {"field": "v", "type": "quantitative", "scale": {"domain": [0.158, 2.058], "nice": false, "zero": false}, "axis": {"values": [1,2], "format": "d", "title": "[bit]"}}
},
"layer": [
{"data": {"name": "d0"}, "transform": [{"filter": {"field": "s", "equal": "N"}}], "mark": {"type": "line", "interpolate": "monotone"},
"encoding": {
"color": {"field": "s", "type": "nominal", "scale": {"domain": ["LR","M2","EP","EN","N"], "range": ["#1a74f6","#8e2aa3","#c96a2c","#0b0b80","#22a522"]}, "legend": null},
"strokeDash": {"field": "s", "type": "nominal", "scale": {"domain": ["LR","M2","EP","EN","N"], "range": [[1,0],[7,2.5,1.5,2.5],[1.5,2.5],[1,0],[5.5,2.5]]}, "legend": null}
}},
{"data": {"values": [{"t": 5.18, "v": 1.756, "k": "(c)"}]}, "mark": {"type": "text", "align": "right", "baseline": "middle"}, "encoding": {"text": {"field": "k"}}}
]
},
{
"width": 248, "height": 88,
"encoding": {
"x": {"field": "t", "type": "quantitative", "scale": {"domain": [-0.245, 5.245], "nice": false, "zero": false}, "axis": {"values": [0,1,2,3,4,5], "format": "d", "title": "time/ħ"}},
"y": {"field": "v", "type": "quantitative", "scale": {"domain": [-0.0092, 0.194], "nice": false, "zero": false}, "axis": {"values": [0,0.1], "format": ".1f", "title": "⟨d⟩"}}
},
"layer": [
{"data": {"name": "d0"}, "transform": [{"filter": {"field": "s", "equal": "d"}}], "mark": {"type": "line", "interpolate": "monotone", "color": "#b00c0c"}},
{"data": {"values": [{"t": 5.18, "v": 0.169, "k": "(d)"}]}, "mark": {"type": "text", "align": "right", "baseline": "middle"}, "encoding": {"text": {"field": "k"}}}
]
}
]
},
{
"bounds": "flush",
"spacing": 6,
"vconcat": [
{
"width": 248, "height": 178,
"title": {"text": "U = 100 → 5,  Γ = 1", "fontSize": 15, "offset": 4},
"encoding": {
"x": {"field": "t", "type": "quantitative", "scale": {"domain": [-0.245, 5.245], "nice": false, "zero": false}, "axis": {"values": [0,1,2,3,4,5], "labels": false, "title": null}},
"y": {"field": "v", "type": "quantitative", "scale": {"domain": [-0.034, 0.703], "nice": false, "zero": false}, "axis": {"values": [0,0.2,0.4,0.6], "labels": false, "title": null}}
},
"layer": [
{"data": {"name": "d1"}, "transform": [{"filter": {"field": "u", "equal": 5}}, {"filter": {"field": "s", "oneOf": ["LR","M2"]}}], "mark": {"type": "line", "interpolate": "monotone"},
"encoding": {
"color": {"field": "s", "type": "nominal", "scale": {"domain": ["LR","M2","EP","EN","N"], "range": ["#1a74f6","#8e2aa3","#c96a2c","#0b0b80","#22a522"]}, "legend": null},
"strokeDash": {"field": "s", "type": "nominal", "scale": {"domain": ["LR","M2","EP","EN","N"], "range": [[1,0],[7,2.5,1.5,2.5],[1.5,2.5],[1,0],[5.5,2.5]]}, "legend": null}
}},
{"data": {"values": [{"t": 5.18, "v": 0.636, "k": "(e)"}]}, "mark": {"type": "text", "align": "right", "baseline": "middle"}, "encoding": {"text": {"field": "k"}}}
]
},
{
"width": 248, "height": 88,
"encoding": {
"x": {"field": "t", "type": "quantitative", "scale": {"domain": [-0.245, 5.245], "nice": false, "zero": false}, "axis": {"values": [0,1,2,3,4,5], "labels": false, "title": null}},
"y": {"field": "v", "type": "quantitative", "scale": {"domain": [0.685, 1.011], "nice": false, "zero": false}, "axis": {"values": [0.8,1.0], "labels": false, "title": null}}
},
"layer": [
{"data": {"name": "d1"}, "transform": [{"filter": {"field": "u", "equal": 5}}, {"filter": {"field": "s", "oneOf": ["EP","EN"]}}], "mark": {"type": "line", "interpolate": "monotone"},
"encoding": {
"color": {"field": "s", "type": "nominal", "scale": {"domain": ["LR","M2","EP","EN","N"], "range": ["#1a74f6","#8e2aa3","#c96a2c","#0b0b80","#22a522"]}, "legend": null},
"strokeDash": {"field": "s", "type": "nominal", "scale": {"domain": ["LR","M2","EP","EN","N"], "range": [[1,0],[7,2.5,1.5,2.5],[1.5,2.5],[1,0],[5.5,2.5]]}, "legend": null}
}},
{"data": {"values": [{"t": 5.18, "v": 0.957, "k": "(f)"}]}, "mark": {"type": "text", "align": "right", "baseline": "middle"}, "encoding": {"text": {"field": "k"}}}
]
},
{
"width": 248, "height": 88,
"encoding": {
"x": {"field": "t", "type": "quantitative", "scale": {"domain": [-0.245, 5.245], "nice": false, "zero": false}, "axis": {"values": [0,1,2,3,4,5], "labels": false, "title": null}},
"y": {"field": "v", "type": "quantitative", "scale": {"domain": [0.75, 2.044], "nice": false, "zero": false}, "axis": {"values": [1,1.5,2], "labels": false, "title": null}}
},
"layer": [
{"data": {"name": "d1"}, "transform": [{"filter": {"field": "u", "equal": 5}}, {"filter": {"field": "s", "equal": "N"}}], "mark": {"type": "line", "interpolate": "monotone"},
"encoding": {
"color": {"field": "s", "type": "nominal", "scale": {"domain": ["LR","M2","EP","EN","N"], "range": ["#1a74f6","#8e2aa3","#c96a2c","#0b0b80","#22a522"]}, "legend": null},
"strokeDash": {"field": "s", "type": "nominal", "scale": {"domain": ["LR","M2","EP","EN","N"], "range": [[1,0],[7,2.5,1.5,2.5],[1.5,2.5],[1,0],[5.5,2.5]]}, "legend": null}
}},
{"data": {"values": [{"t": 5.18, "v": 1.887, "k": "(g)"}]}, "mark": {"type": "text", "align": "right", "baseline": "middle"}, "encoding": {"text": {"field": "k"}}}
]
},
{
"width": 248, "height": 88,
"encoding": {
"x": {"field": "t", "type": "quantitative", "scale": {"domain": [-0.245, 5.245], "nice": false, "zero": false}, "axis": {"values": [0,1,2,3,4,5], "format": "d", "title": "time/ħ"}},
"y": {"field": "v", "type": "quantitative", "scale": {"domain": [-0.0075, 0.1564], "nice": false, "zero": false}, "axis": {"values": [0,0.1], "labels": false, "title": null}}
},
"layer": [
{"data": {"name": "d1"}, "transform": [{"filter": {"field": "u", "equal": 5}}, {"filter": {"field": "s", "equal": "d"}}], "mark": {"type": "line", "interpolate": "monotone", "color": "#b00c0c"}},
{"data": {"values": [{"t": 5.18, "v": 0.1365, "k": "(h)"}]}, "mark": {"type": "text", "align": "right", "baseline": "middle"}, "encoding": {"text": {"field": "k"}}}
]
}
]
}
]
},
{
"bounds": "flush",
"spacing": 15,
"vconcat": [
{
"width": 224, "height": 104,
"title": {"text": "U = 100 → Uf, Γ = 1", "fontSize": 15, "offset": 4},
"encoding": {
"x": {"field": "t", "type": "quantitative", "scale": {"domain": [-0.245, 5.245], "nice": false, "zero": false}, "axis": {"values": [0,1,2,3,4,5], "labels": false, "title": null}},
"y": {"field": "v", "type": "quantitative", "scale": {"domain": [-0.036, 0.71], "nice": false, "zero": false}, "axis": {"values": [0,0.2,0.4,0.6], "format": ".1f", "title": "Lℛ"}}
},
"layer": [
{"data": {"name": "d1"}, "transform": [{"filter": {"field": "s", "equal": "LR"}}], "mark": {"type": "line", "interpolate": "monotone"},
"encoding": {"color": {"field": "u", "type": "quantitative", "scale": {"domain": [1,10], "scheme": {"name": "viridis", "extent": [0, 0.85]}}, "legend": {"orient": "none", "legendX": 236, "legendY": 115, "direction": "vertical", "gradientLength": 227, "gradientThickness": 13, "gradientStrokeColor": "#000", "gradientStrokeWidth": 1, "values": [1,2,3,4,5,6,7,8,9,10], "format": "d", "labelFontSize": 12, "labelOffset": 5, "title": "Uf", "titleOrient": "right", "titleAngle": 270, "titleFontSize": 14, "titleFontStyle": "italic", "titleFontWeight": "normal", "titleAnchor": "middle", "titlePadding": 4, "padding": 0}}, "detail": {"field": "u"}}},
{"data": {"values": [{"t": 5.115, "v": 0.617, "k": "(i)"}]}, "mark": {"type": "text", "align": "right", "baseline": "middle"}, "encoding": {"text": {"field": "k"}}}
]
},
{
"width": 224, "height": 104,
"encoding": {
"x": {"field": "t", "type": "quantitative", "scale": {"domain": [-0.245, 5.245], "nice": false, "zero": false}, "axis": {"values": [0,1,2,3,4,5], "labels": false, "title": null}},
"y": {"field": "v", "type": "quantitative", "scale": {"domain": [-0.024, 0.595], "nice": false, "zero": false}, "axis": {"values": [0,0.2,0.4], "format": ".1f", "title": "SRE"}}
},
"layer": [
{"data": {"name": "d1"}, "transform": [{"filter": {"field": "s", "equal": "SRE"}}], "mark": {"type": "line", "interpolate": "monotone"},
"encoding": {"color": {"field": "u", "type": "quantitative", "scale": {"domain": [1,10], "scheme": {"name": "viridis", "extent": [0, 0.85]}}, "legend": {"orient": "none", "legendX": 236, "legendY": 115, "direction": "vertical", "gradientLength": 227, "gradientThickness": 13, "gradientStrokeColor": "#000", "gradientStrokeWidth": 1, "values": [1,2,3,4,5,6,7,8,9,10], "format": "d", "labelFontSize": 12, "labelOffset": 5, "title": "Uf", "titleOrient": "right", "titleAngle": 270, "titleFontSize": 14, "titleFontStyle": "italic", "titleFontWeight": "normal", "titleAnchor": "middle", "titlePadding": 4, "padding": 0}}, "detail": {"field": "u"}}},
{"data": {"values": [{"t": 5.115, "v": 0.516, "k": "(j)"}]}, "mark": {"type": "text", "align": "right", "baseline": "middle"}, "encoding": {"text": {"field": "k"}}}
]
},
{
"width": 224, "height": 104,
"encoding": {
"x": {"field": "t", "type": "quantitative", "scale": {"domain": [-0.245, 5.245], "nice": false, "zero": false}, "axis": {"values": [0,1,2,3,4,5], "labels": false, "title": null}},
"y": {"field": "v", "type": "quantitative", "scale": {"domain": [0.277, 1.04], "nice": false, "zero": false}, "axis": {"values": [0.4,0.6,0.8,1.0], "format": ".1f", "title": "Eᴺ⁻ˢˢᴿ"}}
},
"layer": [
{"data": {"name": "d1"}, "transform": [{"filter": {"field": "s", "equal": "EN"}}], "mark": {"type": "line", "interpolate": "monotone"},
"encoding": {"color": {"field": "u", "type": "quantitative", "scale": {"domain": [1,10], "scheme": {"name": "viridis", "extent": [0, 0.85]}}, "legend": {"orient": "none", "legendX": 236, "legendY": 115, "direction": "vertical", "gradientLength": 227, "gradientThickness": 13, "gradientStrokeColor": "#000", "gradientStrokeWidth": 1, "values": [1,2,3,4,5,6,7,8,9,10], "format": "d", "labelFontSize": 12, "labelOffset": 5, "title": "Uf", "titleOrient": "right", "titleAngle": 270, "titleFontSize": 14, "titleFontStyle": "italic", "titleFontWeight": "normal", "titleAnchor": "middle", "titlePadding": 4, "padding": 0}}, "detail": {"field": "u"}}},
{"data": {"values": [{"t": 5.115, "v": 0.373, "k": "(k)"}]}, "mark": {"type": "text", "align": "right", "baseline": "middle"}, "encoding": {"text": {"field": "k"}}}
]
},
{
"width": 224, "height": 104,
"encoding": {
"x": {"field": "t", "type": "quantitative", "scale": {"domain": [-0.245, 5.245], "nice": false, "zero": false}, "axis": {"values": [0,1,2,3,4,5], "format": "d", "title": "time/ħ"}},
"y": {"field": "v", "type": "quantitative", "scale": {"domain": [0.747, 2.058], "nice": false, "zero": false}, "axis": {"values": [1,1.5,2], "format": ".1f", "title": "𝒩"}}
},
"layer": [
{"data": {"name": "d1"}, "transform": [{"filter": {"field": "s", "equal": "N"}}], "mark": {"type": "line", "interpolate": "monotone"},
"encoding": {"color": {"field": "u", "type": "quantitative", "scale": {"domain": [1,10], "scheme": {"name": "viridis", "extent": [0, 0.85]}}, "legend": {"orient": "none", "legendX": 236, "legendY": 115, "direction": "vertical", "gradientLength": 227, "gradientThickness": 13, "gradientStrokeColor": "#000", "gradientStrokeWidth": 1, "values": [1,2,3,4,5,6,7,8,9,10], "format": "d", "labelFontSize": 12, "labelOffset": 5, "title": "Uf", "titleOrient": "right", "titleAngle": 270, "titleFontSize": 14, "titleFontStyle": "italic", "titleFontWeight": "normal", "titleAnchor": "middle", "titlePadding": 4, "padding": 0}}, "detail": {"field": "u"}}},
{"data": {"values": [{"t": 5.115, "v": 1.915, "k": "(l)"}]}, "mark": {"type": "text", "align": "right", "baseline": "middle"}, "encoding": {"text": {"field": "k"}}}
]
}
]
}
]
}
